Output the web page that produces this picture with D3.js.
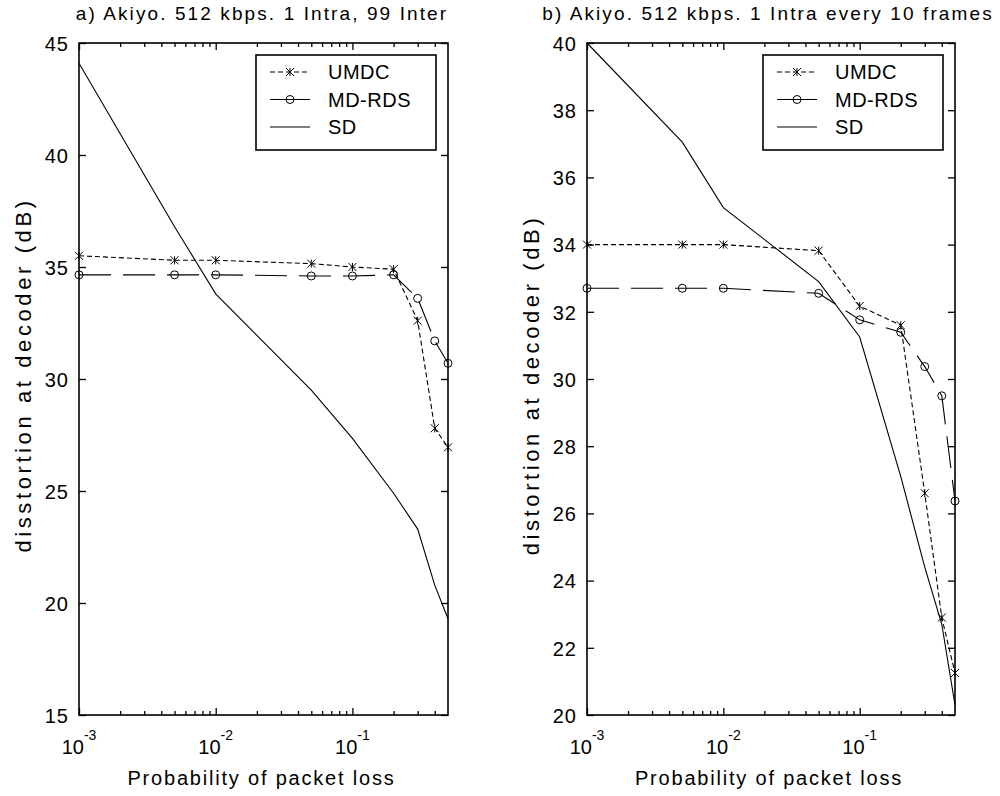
<!DOCTYPE html>
<html>
<head>
<meta charset="utf-8">
<script src="https://cdn.jsdelivr.net/npm/d3@7"></script>
<style>
body { margin: 0; background: #fff; }
svg text { font-family: "Liberation Sans", Arial, sans-serif; fill: #000; }
</style>
</head>
<body>
<div class="chart"></div>
<script>

var w = 1000;
var h = 796;

// packet loss probabilities (x axis, log)
var lossProb = [0.001, 0.005, 0.01, 0.05, 0.1, 0.2, 0.3, 0.4, 0.5];
var xMajor = [0.001, 0.01, 0.1];
var xMinor = [0.002,0.003,0.004,0.005,0.006,0.007,0.008,0.009,
              0.02,0.03,0.04,0.05,0.06,0.07,0.08,0.09,
              0.2,0.3,0.4];
var xTickExp = ["-3", "-2", "-1"];

// a) 1 Intra, 99 Inter
var umdcA  = [35.5, 35.3, 35.3, 35.15, 35.0, 34.9, 32.6, 27.8, 26.95];
var mdrdsA = [34.65, 34.65, 34.65, 34.6, 34.6, 34.65, 33.6, 31.7, 30.7];
var sdA    = [44.1, 36.8, 33.8, 29.5, 27.35, 24.9, 23.3, 20.8, 19.3];
var yTicksA = [15, 20, 25, 30, 35, 40, 45];

// b) 1 Intra every 10 frames
var umdcB  = [34.0, 34.0, 34.0, 33.82, 32.17, 31.6, 26.6, 22.9, 21.25];
var mdrdsB = [32.7, 32.7, 32.7, 32.55, 31.76, 31.39, 30.37, 29.5, 26.37];
var sdB    = [40.0, 37.05, 35.1, 32.9, 31.25, 27.1, 24.4, 22.7, 20.3];
var yTicksB = [20, 22, 24, 26, 28, 30, 32, 34, 36, 38, 40];

var seriesNames = ["UMDC", "MD-RDS", "SD"];

var svg = d3.select(".chart")
            .append("svg")
            .attr("width", w)
            .attr("height", h);

function drawMarker(g, type, cx, cy) {
    if (type == "x") {
        var s = 4;
        g.append("path")
         .attr("d", "M" + (cx - s) + "," + (cy - s) + "L" + (cx + s) + "," + (cy + s) +
                    "M" + (cx - s) + "," + (cy + s) + "L" + (cx + s) + "," + (cy - s) +
                    "M" + cx + "," + (cy - s) + "L" + cx + "," + (cy + s))
         .attr("stroke", "#000").attr("stroke-width", 1).attr("fill", "none");
    } else if (type == "o") {
        g.append("circle")
         .attr("cx", cx).attr("cy", cy).attr("r", 4)
         .attr("stroke", "#000").attr("stroke-width", 1).attr("fill", "none");
    }
}

function panel(opt) {
    var x = d3.scaleLog().domain([0.001, 0.5]).range([opt.x0, opt.x1]);
    var y = d3.scaleLinear().domain(opt.ydom).range([opt.y1, opt.y0]);
    var g = svg.append("g");

    // ticks (inward, on all four sides)
    var ax = g.append("g").attr("class", "axes");
    ax.append("g").attr("transform", "translate(0," + opt.y1 + ")")
      .call(d3.axisBottom(x).tickValues(xMajor).tickSize(-7).tickFormat(""));
    ax.append("g").attr("transform", "translate(0," + opt.y1 + ")")
      .call(d3.axisBottom(x).tickValues(xMinor).tickSize(-4).tickFormat(""));
    ax.append("g").attr("transform", "translate(0," + opt.y0 + ")")
      .call(d3.axisTop(x).tickValues(xMajor).tickSize(-7).tickFormat(""));
    ax.append("g").attr("transform", "translate(0," + opt.y0 + ")")
      .call(d3.axisTop(x).tickValues(xMinor).tickSize(-4).tickFormat(""));
    ax.append("g").attr("class", "yaxis").attr("transform", "translate(" + opt.x0 + ",0)")
      .call(d3.axisLeft(y).tickValues(opt.yticks).tickSize(-7).tickPadding(10));
    ax.append("g").attr("transform", "translate(" + opt.x1 + ",0)")
      .call(d3.axisRight(y).tickValues(opt.yticks).tickSize(-7).tickFormat(""));
    ax.selectAll(".domain").remove();
    ax.selectAll("line").attr("stroke", "#000").attr("stroke-width", 1.3);
    ax.selectAll(".yaxis text")
      .attr("font-size", "20px")
      .attr("font-family", "Liberation Sans, Arial, sans-serif")
      .attr("letter-spacing", "1px")
      .attr("fill", "#000")
      .attr("dy", "0.36em");

    // box
    g.append("rect")
     .attr("x", opt.x0).attr("y", opt.y0)
     .attr("width", opt.x1 - opt.x0).attr("height", opt.y1 - opt.y0)
     .attr("fill", "none").attr("stroke", "#000").attr("stroke-width", 1.6);

    // x tick labels 10^k
    xMajor.forEach(function(v, i) {
        var t = g.append("text")
                 .attr("x", x(v)).attr("y", opt.y1 + 39)
                 .attr("text-anchor", "middle")
                 .attr("font-size", "20px");
        t.append("tspan").text("10");
        t.append("tspan").attr("dy", -14).attr("font-size", "14px").text(xTickExp[i]);
    });

    // title, axis labels
    g.append("text")
     .attr("x", opt.titlex).attr("y", 20)
     .attr("text-anchor", "middle").attr("font-size", "19px")
     .attr("letter-spacing", "2.1px")
     .text(opt.title);
    g.append("text")
     .attr("x", (opt.x0 + opt.x1) / 2 - 2).attr("y", 785)
     .attr("text-anchor", "middle").attr("font-size", "20px")
     .attr("letter-spacing", "1.8px")
     .text("Probability of packet loss");
    g.append("text")
     .attr("transform", "translate(" + opt.ylabx + "," + opt.ylaby + ") rotate(-90)")
     .attr("text-anchor", "middle").attr("font-size", "22px")
     .attr("letter-spacing", "3.6px")
     .text(opt.ylabel);

    // lines
    var line = d3.line()
                 .x(function(d) { return x(d[0]); })
                 .y(function(d) { return y(d[1]); });
    var styles = [
        {dash: "5,3", marker: "x"},
        {dash: "32,12", marker: "o"},
        {dash: null, marker: null}
    ];
    opt.series.forEach(function(vals, i) {
        var pts = lossProb.map(function(p, j) { return [p, vals[j]]; });
        g.append("path")
         .datum(pts)
         .attr("d", line)
         .attr("fill", "none")
         .attr("stroke", "#000")
         .attr("stroke-width", 1.1)
         .attr("stroke-dasharray", styles[i].dash);
        if (styles[i].marker) {
            pts.forEach(function(d) {
                drawMarker(g, styles[i].marker, x(d[0]), y(d[1]));
            });
        }
    });

    // legend
    var lx = opt.x1 - 192, ly = opt.y0 + 12, lw = 180, lh = 95;
    var lg = g.append("g");
    lg.append("rect")
      .attr("x", lx).attr("y", ly).attr("width", lw).attr("height", lh)
      .attr("fill", "#fff").attr("stroke", "#000").attr("stroke-width", 1.6);
    seriesNames.forEach(function(name, i) {
        var cy = ly + 17 + i * 27.5;
        lg.append("line")
          .attr("x1", lx + 14).attr("x2", lx + 54)
          .attr("y1", cy).attr("y2", cy)
          .attr("stroke", "#000").attr("stroke-width", 1.1)
          .attr("stroke-dasharray", i == 0 ? "5,3" : null);
        if (styles[i].marker) drawMarker(lg, styles[i].marker, lx + 34, cy);
        lg.append("text")
          .attr("x", lx + 72).attr("y", cy)
          .attr("dy", "0.36em")
          .attr("font-size", "20px")
          .attr("letter-spacing", "0.5px")
          .text(name);
    });
}

panel({
    x0: 79, x1: 448, y0: 43, y1: 715,
    ydom: [15, 45], yticks: yTicksA,
    title: "a) Akiyo. 512 kbps. 1 Intra, 99 Inter", titlex: 262,
    ylabel: "disstortion at decoder (dB)", ylabx: 31, ylaby: 375,
    series: [umdcA, mdrdsA, sdA]
});

panel({
    x0: 587, x1: 955, y0: 43, y1: 715,
    ydom: [20, 40], yticks: yTicksB,
    title: "b) Akiyo. 512 kbps. 1 Intra every 10 frames", titlex: 768,
    ylabel: "distortion at decoder (dB)", ylabx: 539, ylaby: 385,
    series: [umdcB, mdrdsB, sdB]
});

</script>
</body>
</html>
